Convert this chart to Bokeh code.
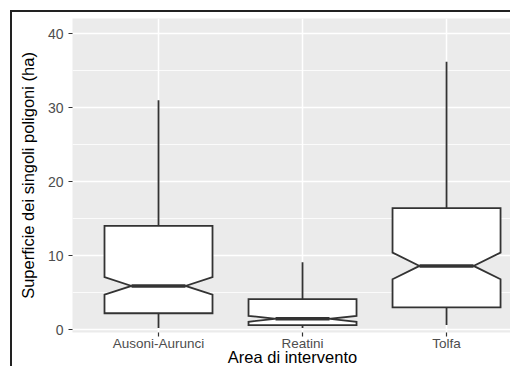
import numpy as np
from bokeh.plotting import figure
from bokeh.models import Range1d, FixedTicker
from bokeh.embed import file_html
from bokeh.resources import INLINE

# ---- data ----
categories = ["Ausoni-Aurunci", "Reatini", "Tolfa"]
whisker_low = [0.2, 0.2, 0.6]
q1 = [2.2, 0.6, 3.0]
notch_low = [4.7, 1.05, 6.8]
median = [5.9, 1.45, 8.6]
notch_high = [7.1, 1.85, 10.4]
q3 = [14.0, 4.1, 16.4]
whisker_high = [31.0, 9.1, 36.2]
y_ticks = [0, 10, 20, 30, 40]
y_minor = [5, 15, 25, 35]

BOX_WIDTH = 0.75
NOTCH_WIDTH = 0.5

pos = np.arange(1, len(categories) + 1)
half = BOX_WIDTH / 2
indent = (1 - NOTCH_WIDTH) * half

xs, ys = [], []
for i, c in enumerate(pos):
    l, r = c - half, c + half
    xs.append([l, l, l + indent, l, l, r, r, r - indent, r, r])
    ys.append([q3[i], notch_high[i], median[i], notch_low[i], q1[i],
               q1[i], notch_low[i], median[i], notch_high[i], q3[i]])

p = figure(width=500, height=356, output_backend="svg", toolbar_location=None,
           x_range=Range1d(0.4028, 3.458), y_range=Range1d(-0.40, 42.03),
           min_border_left=60, min_border_right=0, min_border_top=6,
           min_border_bottom=0)
p.styles = {"margin-left": "10px", "margin-top": "10px",
            "border-left": "2px solid #222222", "border-top": "2px solid #222222"}

p.background_fill_color = "#EBEBEB"
p.border_fill_color = "white"
p.outline_line_color = None

FONT = "Liberation Sans"
xt = FixedTicker(ticks=[float(v) for v in pos])
yt = FixedTicker(ticks=y_ticks, minor_ticks=y_minor)

xa = p.xaxis[0]
xa.ticker = xt
xa.major_label_overrides = {int(v): c for v, c in zip(pos, categories)}
xa.axis_label = "Area di intervento"
ya = p.yaxis[0]
ya.ticker = yt
ya.axis_label = "Superficie dei singoli poligoni (ha)"

for ax in (xa, ya):
    ax.axis_line_color = None
    ax.minor_tick_line_color = None
    ax.major_tick_line_color = "#333333"
    ax.major_tick_line_width = 1.2
    ax.major_tick_in = 0
    ax.major_tick_out = 4
    ax.major_label_text_font = FONT
    ax.major_label_text_color = "#4D4D4D"
    ax.axis_label_text_font = FONT
    ax.axis_label_text_font_style = "normal"
    ax.axis_label_text_color = "black"

xa.major_label_text_font_size = "13.5px"
xa.major_label_standoff = -1
xa.axis_label_standoff = -6
xa.axis_label_text_font_size = "16.5px"
ya.major_label_text_font_size = "14px"
ya.major_label_standoff = 5
ya.axis_label_standoff = 8
ya.axis_label_text_font_size = "16.5px"

p.xgrid.ticker = xt
p.xgrid.grid_line_color = "white"
p.xgrid.grid_line_width = 1.5
p.ygrid.ticker = yt
p.ygrid.grid_line_color = "white"
p.ygrid.grid_line_width = 1.5
p.ygrid.minor_grid_line_color = "white"
p.ygrid.minor_grid_line_width = 0.8

LC = "#333333"
p.segment(x0=pos, y0=q3, x1=pos, y1=whisker_high, line_color=LC, line_width=1.8)
p.segment(x0=pos, y0=q1, x1=pos, y1=whisker_low, line_color=LC, line_width=1.8)
p.patches(xs=xs, ys=ys, fill_color="white", line_color=LC, line_width=1.8,
          line_join="miter")
p.segment(x0=pos - half + indent, y0=median, x1=pos + half - indent, y1=median,
          line_color=LC, line_width=3.5)

open("out.html", "w").write(file_html(p, INLINE))
